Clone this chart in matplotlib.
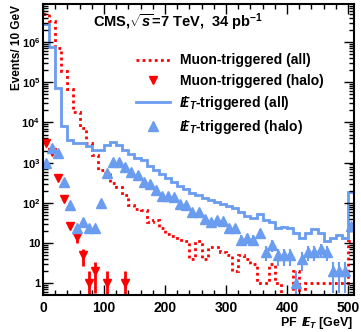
import numpy as np
import matplotlib
matplotlib.use('Agg')
import matplotlib.pyplot as plt
from matplotlib.lines import Line2D

plt.rcParams['font.family'] = ['Liberation Sans', 'DejaVu Sans']
plt.rcParams['font.weight'] = 'bold'
plt.rcParams['mathtext.fontset'] = 'custom'
plt.rcParams['mathtext.rm'] = 'Liberation Sans:bold'
plt.rcParams['mathtext.bf'] = 'Liberation Sans:bold'
plt.rcParams['mathtext.it'] = 'Liberation Sans:bold:italic'

# 10 GeV bins, last bin (500-510) is the overflow
edges = np.arange(0, 520, 10)

muon_all = [5.0e6, 3.3e6, 7.1e5, 1.9e5, 6.8e4, 1.8e4, 7.3e3, 3.1e3, 1.55e3, 660,
            550, 315, 250, 157, 89, 70, 66, 33, 37, 24,
            17, 15, 12, 11, 4, 11, 4, 8, 8, 6,
            5, 2, 5, 4, 3, 1, 1, 3, 1, 0,
            0, 2, 0, 1, 1, 1, 1, 1, 1, 1,
            11]
muon_halo = [3100, 1850, 420, 125, 27, 14, 5, 1, 2, 0,
             1, 0, 0, 1, 0, 0, 0, 0, 0, 0,
             0, 0, 0, 0, 0, 0, 0, 0, 0, 0,
             0, 0, 0, 0, 0, 0, 0, 0, 0, 0,
             0, 0, 0, 0, 0, 0, 0, 0, 0, 0,
             0]
met_all = [2.8e6, 7.6e5, 7.2e4, 8.2e3, 3.7e3, 3.1e3, 3.1e3, 2.6e3, 2.1e3, 2.1e3,
           2.8e3, 3.3e3, 2.8e3, 2.1e3, 1.65e3, 1.3e3, 1.17e3, 830, 660, 525,
           415, 330, 265, 223, 178, 158, 133, 118, 105, 94,
           84, 75, 59, 47, 42, 53, 37, 33, 24, 25,
           24, 18, 13, 18, 22, 18, 11, 13, 16, 13,
           187]
met_halo = [980, 2300, 1750, 330, 89, 24, 33, 24, 24, 100,
            550, 1040, 1040, 780, 590, 500, 330, 300, 210, 148,
            148, 140, 94, 89, 59, 59, 40, 33, 37, 35,
            24, 24, 12, 13, 12, 18, 6, 9, 5, 5,
            5, 1, 4, 6, 6, 7, 6, 2, 2, 2,
            27]

x_ticks = [0, 100, 200, 300, 400, 500]
y_ticks = [1, 10, 1e2, 1e3, 1e4, 1e5, 1e6]
y_ticklabels = ['1', '10', r'$10^{2}$', r'$10^{3}$', r'$10^{4}$', r'$10^{5}$', r'$10^{6}$']

red = '#ff0000'
blue = '#6a9cf0'

fig = plt.figure(figsize=(3.61, 3.32), dpi=100)
ax = fig.add_axes([0.119, 0.1114, 0.862, 0.8765])
ax.set_yscale('log')

centers = 0.5 * (edges[:-1] + edges[1:])

# histograms
ax.stairs(muon_all, edges, baseline=None, color=red, lw=2, linestyle=(0, (1, 1.2)))
ax.stairs(met_all, edges, baseline=None, color=blue, lw=2)

# halo points with sqrt(N) errors
mh = np.array(muon_halo, dtype=float)
sel = mh > 0
ax.errorbar(centers[sel], mh[sel], yerr=np.sqrt(mh[sel]), fmt='none', ecolor=red, elinewidth=2)
ax.plot(centers[sel], mh[sel], 'v', color=red, ms=6, mec=red)

eh = np.array(met_halo, dtype=float)
sel = eh > 0
ax.errorbar(centers[sel], eh[sel], yerr=np.sqrt(eh[sel]), fmt='none', ecolor=blue, elinewidth=1.5)
ax.plot(centers[sel], eh[sel], '^', color=blue, ms=6.5, mec=blue)

ax.set_xlim(0, 510)
ax.set_ylim(0.51, 8.8e6)

ax.set_xticks(x_ticks)
ax.set_xticklabels([str(t) for t in x_ticks])
ax.set_xticks(np.arange(0, 511, 20), minor=True)
ax.set_yticks(y_ticks)
ax.set_yticklabels(y_ticklabels)
ax.tick_params(which='both', direction='in', top=True, right=True, width=1)
ax.tick_params(which='major', length=7)
ax.tick_params(which='minor', length=3.5)
ax.tick_params(axis='x', labelsize=10, pad=4)
ax.tick_params(axis='y', labelsize=8, pad=2)
for s in ax.spines.values():
    s.set_linewidth(1.5)

fig.text(17 / 361, 1 - 5 / 332, 'Events/ 10 GeV', rotation=90, fontsize=8.5,
         ha='center', va='top')
fig.text(353 / 361, 1 - 323 / 332, r'PF $\ /\!\!\!E_{T}$ [GeV]', fontsize=9,
         ha='right', va='center')

ax.text(0.161, 0.938, r'CMS,$\sqrt{s}$=7 TeV,  34 pb$^{-1}$', transform=ax.transAxes,
        fontsize=10.5, va='center', ha='left')

handles = [Line2D([], [], color=red, lw=2, linestyle=(0, (1, 1.2))),
           Line2D([], [], color=red, marker='v', ms=6, linestyle='none'),
           Line2D([], [], color=blue, lw=2),
           Line2D([], [], color=blue, marker='^', ms=6.5, linestyle='none')]
labels = ['Muon-triggered (all)', 'Muon-triggered (halo)',
          r'$/\!\!\!E_{T}$-triggered (all)', r'$/\!\!\!E_{T}$-triggered (halo)']
ax.legend(handles, labels, loc='upper left', bbox_to_anchor=(0.30, 0.83), frameon=False,
          fontsize=10, handlelength=2.4, handletextpad=0.72, labelspacing=0.45,
          borderpad=0, borderaxespad=0)

fig.savefig('out.png', dpi=100)
